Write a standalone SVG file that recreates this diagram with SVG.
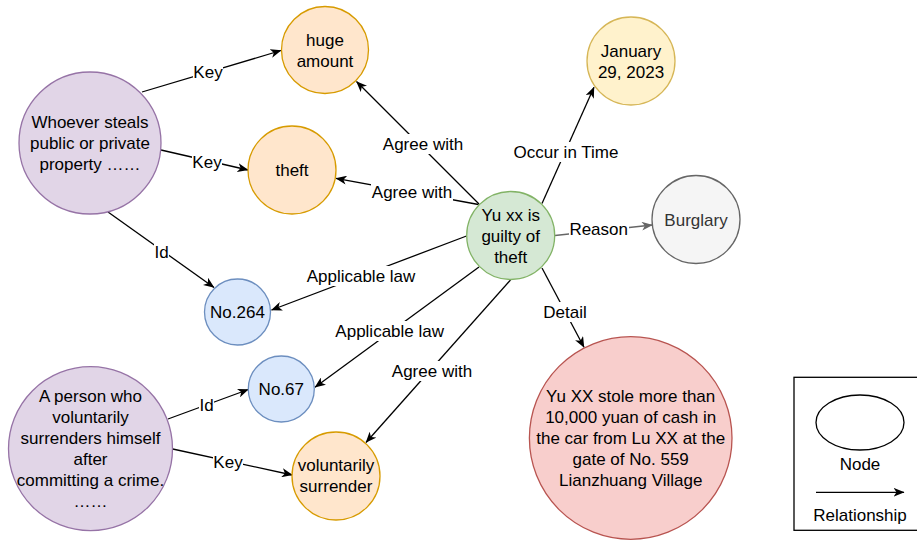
<svg xmlns="http://www.w3.org/2000/svg" width="917" height="540" viewBox="0 0 917 540">
<defs>
<style>
text{font-family:"Liberation Sans",Arial,sans-serif;font-size:17px;fill:#000;text-anchor:middle}
.e{stroke:#000;stroke-width:1.3;fill:none;marker-end:url(#ah)}
.eg{stroke:#666;stroke-width:1.3;fill:none;marker-end:url(#ahg)}
.lb{fill:#fff;stroke:none}
.pu{fill:#e1d5e7;stroke:#9673a6;stroke-width:1.3}
.or{fill:#ffe6cc;stroke:#d79b00;stroke-width:1.3}
.ye{fill:#fff2cc;stroke:#d6b656;stroke-width:1.3}
.gr{fill:#f5f5f5;stroke:#666;stroke-width:1.3}
.gn{fill:#d5e8d4;stroke:#82b366;stroke-width:1.3}
.bl{fill:#dae8fc;stroke:#6c8ebf;stroke-width:1.3}
.rd{fill:#f8cecc;stroke:#b85450;stroke-width:1.3}
</style>
<marker id="ah" viewBox="0 0 11 9" refX="10.5" refY="4.5" markerWidth="11" markerHeight="9" markerUnits="userSpaceOnUse" orient="auto"><path d="M0,0 L11,4.5 L0,9 L3,4.5 Z" fill="#000"/></marker>
<marker id="ahg" viewBox="0 0 11 9" refX="10.5" refY="4.5" markerWidth="11" markerHeight="9" markerUnits="userSpaceOnUse" orient="auto"><path d="M0,0 L11,4.5 L0,9 L3,4.5 Z" fill="#666"/></marker>
</defs>
<rect width="917" height="540" fill="#fff"/>
<g id="connectors">
<line class="e" x1="142" y1="92" x2="281" y2="50.5"/>
<line class="e" x1="161" y1="150" x2="248" y2="170"/>
<line class="e" x1="108" y1="212" x2="214" y2="287.5"/>
<line class="e" x1="479" y1="204" x2="356.5" y2="81.5"/>
<line class="e" x1="478.5" y1="204.5" x2="336" y2="178.3"/>
<line class="e" x1="542" y1="203.5" x2="594" y2="87.3"/>
<line class="eg" x1="555" y1="235.5" x2="652.3" y2="225"/>
<line class="e" x1="466.5" y1="236" x2="271.5" y2="310"/>
<line class="e" x1="479" y1="267" x2="315" y2="387.3"/>
<line class="e" x1="510.5" y1="280" x2="366" y2="442.5"/>
<line class="e" x1="542" y1="268" x2="584" y2="347.3"/>
<line class="e" x1="168" y1="419" x2="248.3" y2="389.5"/>
<line class="e" x1="172.7" y1="449" x2="292.3" y2="475"/>
<g id="labels">
<rect class="lb" x="193" y="62" width="30" height="20"/><text x="208" y="77.5">Key</text>
<rect class="lb" x="192" y="152" width="30" height="20"/><text x="207" y="168">Key</text>
<rect class="lb" x="154" y="242" width="15" height="20"/><text x="161.5" y="258">Id</text>
<rect class="lb" x="382" y="134" width="82" height="20"/><text x="423" y="150">Agree with</text>
<rect class="lb" x="371" y="182" width="82" height="20"/><text x="412" y="198">Agree with</text>
<rect class="lb" x="512" y="142" width="108" height="20"/><text x="566" y="158.3">Occur in Time</text>
<rect class="lb" x="569" y="219" width="60" height="20"/><text x="598.7" y="235">Reason</text>
<rect class="lb" x="306" y="266" width="110" height="20"/><text x="361" y="281.5">Applicable law</text>
<rect class="lb" x="334" y="321" width="111" height="20"/><text x="389.7" y="337">Applicable law</text>
<rect class="lb" x="391" y="361" width="82" height="20"/><text x="432" y="377">Agree with</text>
<rect class="lb" x="543" y="302" width="44" height="20"/><text x="565" y="318.3">Detail</text>
<rect class="lb" x="199" y="395" width="15" height="20"/><text x="206.5" y="410.7">Id</text>
<rect class="lb" x="213" y="452" width="30" height="20"/><text x="228" y="468.3">Key</text>
</g>
</g>
<g id="n_whoever"><circle class="pu" cx="90" cy="143" r="71"/><text x="90" y="128">Whoever steals</text><text x="90" y="149">public or private</text><text x="90" y="170">property ……</text></g>
<g id="n_huge"><circle class="or" cx="325" cy="50" r="43.5"/><text x="325" y="45.5">huge</text><text x="325" y="66.5">amount</text></g>
<g id="n_theft"><circle class="or" cx="292" cy="170" r="44"/><text x="292" y="176">theft</text></g>
<g id="n_january"><circle class="ye" cx="631" cy="61" r="44"/><text x="631" y="56.5">January</text><text x="631" y="77.5">29, 2023</text></g>
<g id="n_burglary"><circle class="gr" cx="696" cy="219.5" r="44"/><text x="696" y="225.5" style="fill:#333">Burglary</text></g>
<g id="n_guilty"><circle class="gn" cx="510.7" cy="235.5" r="44"/><text x="510.7" y="220.7">Yu xx is</text><text x="510.7" y="241.7">guilty of</text><text x="510.7" y="262.7">theft</text></g>
<g id="n_264"><circle class="bl" cx="237.5" cy="312" r="33"/><text x="237.5" y="318">No.264</text></g>
<g id="n_67"><circle class="bl" cx="281.3" cy="389" r="33"/><text x="281.3" y="395">No.67</text></g>
<g id="n_person"><circle class="pu" cx="90.5" cy="448.7" r="82"/><text x="90.5" y="401.7">A person who</text><text x="90.5" y="422.7">voluntarily</text><text x="90.5" y="443.7">surrenders himself</text><text x="90.5" y="464.7">after</text><text x="90.5" y="485.7">committing a crime.</text><text x="90.5" y="506.7">……</text></g>
<g id="n_surrender"><circle class="or" cx="336" cy="476" r="44"/><text x="336" y="471">voluntarily</text><text x="336" y="492">surrender</text></g>
<g id="n_detail"><circle class="rd" cx="630.7" cy="438" r="101.3"/><text x="630.7" y="402">Yu XX stole more than</text><text x="630.7" y="423">10,000 yuan of cash in</text><text x="630.7" y="444">the car from Lu XX at the</text><text x="630.7" y="465">gate of No. 559</text><text x="630.7" y="486">Lianzhuang Village</text></g>
<g id="legend">
<rect x="794" y="377.3" width="130" height="153" fill="#fff" stroke="#000" stroke-width="1.3"/>
<ellipse cx="860" cy="422.5" rx="44" ry="27.5" fill="#fff" stroke="#000" stroke-width="1.3"/>
<text x="860" y="470">Node</text>
<line class="e" x1="816" y1="492.3" x2="904" y2="492.3"/>
<text x="860" y="521">Relationship</text>
</g>
</svg>
